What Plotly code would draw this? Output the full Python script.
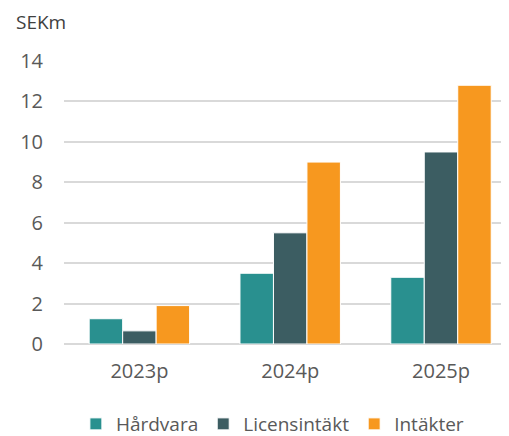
import plotly.graph_objects as go

categories = ["2023p", "2024p", "2025p"]
hardvara = [1.25, 3.5, 3.3]
licensintakt = [0.65, 5.5, 9.5]
intakter = [1.9, 9.0, 12.8]
y_ticks = [0, 2, 4, 6, 8, 10, 12, 14]

font = "Open Sans, Noto Sans, sans-serif"
fig = go.Figure()
for name, vals, col in [("Hårdvara", hardvara, "#29908F"),
                        ("Licensintäkt", licensintakt, "#3C5D62"),
                        ("Intäkter", intakter, "#F7981F")]:
    fig.add_trace(go.Bar(x=categories, y=vals, name=name, marker_color=col,
                         marker_line_color="white", marker_line_width=1))

fig.update_layout(
    width=509, height=428,
    margin=dict(l=56, r=0, t=53, b=92, autoexpand=False),
    paper_bgcolor="white", plot_bgcolor="white",
    barmode="group", bargap=0.334, bargroupgap=0,
    font=dict(family=font, size=20, color="#595959"),
    showlegend=True,
    legend=dict(orientation="h", x=0.46, xanchor="center",
                yref="container", y=0.028, yanchor="middle",
                font=dict(size=19, color="#595959"), itemwidth=30),
    xaxis=dict(range=[-0.5, 2.504], showgrid=False, showline=False, ticks="",
               ticklabelstandoff=13),
    yaxis=dict(range=[0, 14], tickvals=y_ticks, showgrid=True, gridcolor="#D9D9D9",
               gridwidth=1.5, zeroline=True, zerolinecolor="#D9D9D9", zerolinewidth=1.5,
               ticks="", ticklabelstandoff=20),
    annotations=[dict(text="SEKm", xref="paper", yref="paper", x=-50/453, y=1 + 39/283,
                      xanchor="left", yanchor="middle", showarrow=False,
                      font=dict(size=19, color="#404040"))],
)
fig.write_html("out.html")
